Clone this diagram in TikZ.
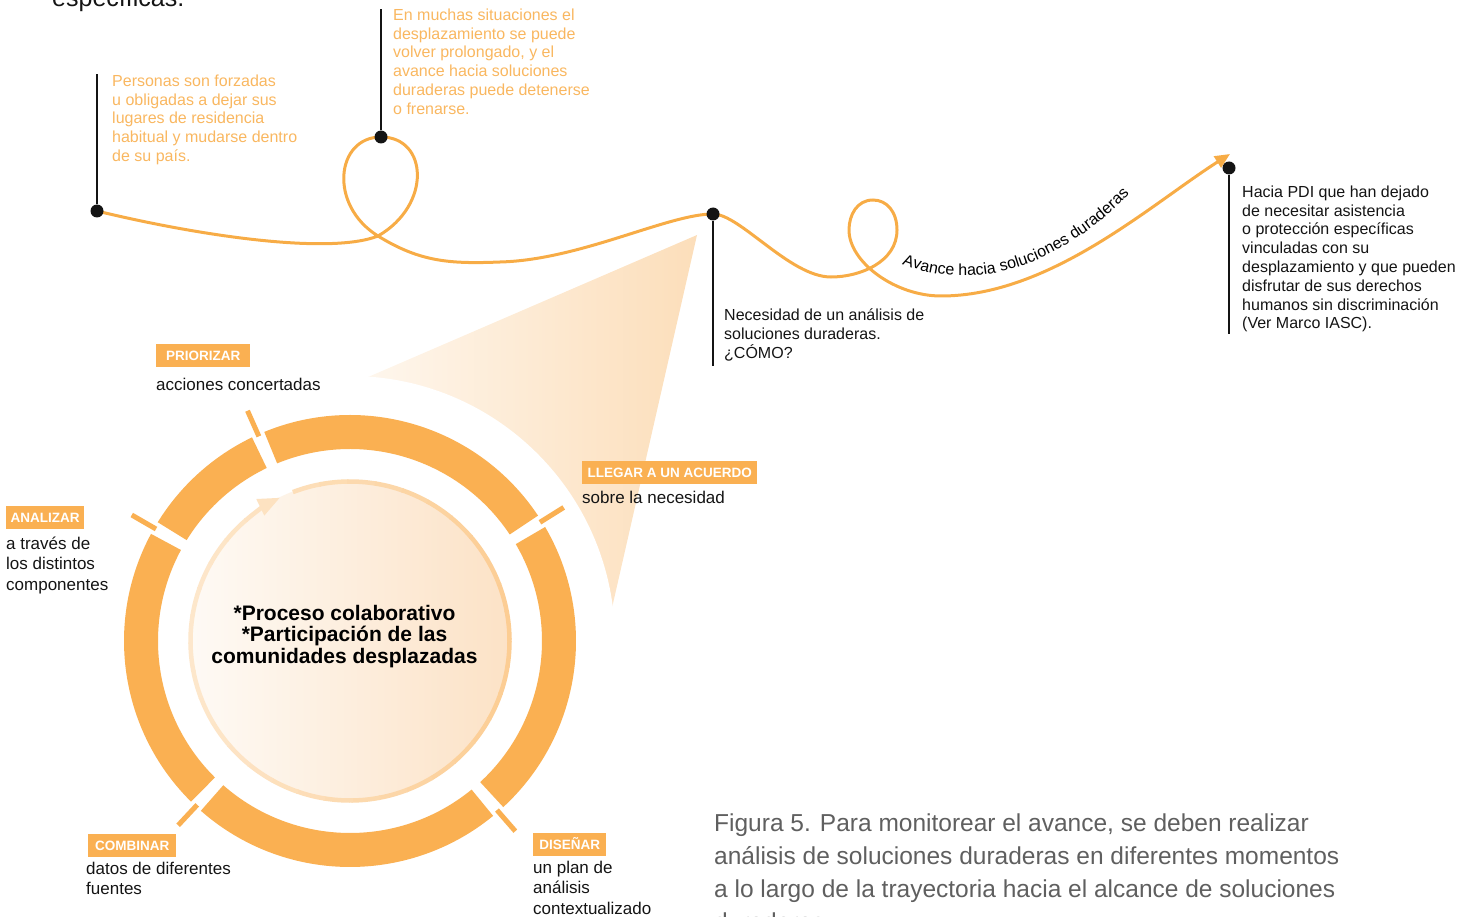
\documentclass[tikz,border=0pt]{standalone}
\usepackage{fontspec}
\setmainfont{Liberation Sans}
\usepackage{tikz}
\usepackage{xcolor}
\usetikzlibrary{arrows.meta, positioning, calc, decorations.text}
\definecolor{trailorange}{RGB}{247, 172, 70}
\definecolor{ringorange}{RGB}{250, 176, 82}
\definecolor{noteorange}{RGB}{249, 183, 96}
\definecolor{wedgepeach}{RGB}{252, 222, 186}
\definecolor{discleft}{RGB}{254, 250, 245}
\definecolor{discright}{RGB}{252, 226, 198}
\definecolor{rimorange}{RGB}{251, 196, 128}
\definecolor{captiongray}{RGB}{95, 95, 95}
\definecolor{inkblack}{RGB}{20, 20, 20}

\begin{document}
\begin{tikzpicture}[x=1pt, y=1pt,
    trail/.style={draw=trailorange, line width=3pt},
    leader/.style={draw=inkblack, line width=2pt},
    dot/.style={circle, fill=inkblack, inner sep=0pt, minimum size=13pt},
    note/.style={anchor=north west, inner sep=0pt, align=left, text=inkblack, font=\fontsize{16}{18.8}\selectfont},
    tag/.style={anchor=north west, fill=ringorange, text=white, inner xsep=2pt, inner ysep=0pt,
        minimum height=22.5pt, text height=10pt, text depth=0pt, font=\bfseries\fontsize{13.5}{16}\selectfont},
    tagtext/.style={inner sep=0pt, align=left, text=inkblack, font=\fontsize{17}{20.3}\selectfont}
]
\useasboundingbox (0,0) rectangle (1478,-917);

% --- Wedge and halo ---
\coordinate (hub) at (350,-641);
\coordinate (wedgetip) at (697,-235);
\shade[left color=white, right color=wedgepeach] (wedgetip) -- (250,-428) -- (591,-700) -- cycle;
\fill[white] (hub) circle[radius=265];

% --- Cycle ring ---
\begin{scope}[shift={(hub)}]
    \foreach \from/\to in {32/114, 114/150, 150/227, 227/311, 311/392}
        \fill[ringorange] (\from+1.7:226) arc[start angle=\from+1.7, end angle=\to-1.7, radius=226]
            -- (\to-1.7:192) arc[start angle=\to-1.7, end angle=\from+1.7, radius=192] -- cycle;
    \foreach \g in {32,114,150,227,311}
        \draw[ringorange, line width=5pt] (\g:224) -- (\g:252);

    \shade[left color=discleft, right color=discright] (0,0) circle[radius=160];
    \foreach \a in {111,101,...,-219}{
        \pgfmathsetmacro{\rimmix}{40+45*(1+cos(\a-5))/2}
        \draw[rimorange!\rimmix, line width=4.5pt] (\a:159.5) arc[start angle=\a, end angle=\a-10.5, radius=159.5];
    }
    \draw[rimorange!49, line width=4.5pt, -{Triangle[length=22pt, width=17pt]}]
        (-229:159.5) arc[start angle=-229, end angle=-244, radius=159.5];

    \node[font=\bfseries\fontsize{21}{21.5}\selectfont, align=center, inner sep=0pt, text=black] (core) at (-5.5,4.5)
        {*Proceso colaborativo\\*Participación de las\\comunidades desplazadas};
\end{scope}

% --- Ring labels ---
\node[tag, minimum width=94pt] (tagprio) at (156,-344) {PRIORIZAR};
\node[tagtext, below=11pt of tagprio.south west, anchor=north west] (txtprio) {acciones concertadas};

\node[tag, minimum width=78pt] (taganal) at (6,-506) {ANALIZAR};
\node[tagtext, below=8pt of taganal.south west, anchor=north west] (txtanal) {a través de\\los distintos\\componentes};

\node[tag, minimum width=175pt] (tagllegar) at (582,-461) {LLEGAR A UN ACUERDO};
\node[tagtext, below=7pt of tagllegar.south west, anchor=north west] (txtllegar) {sobre la necesidad};

\node[tag, minimum width=88pt] (tagcomb) at (88,-834) {COMBINAR};
\node[tagtext, below=5pt of tagcomb.south west, anchor=north west, xshift=-2pt] (txtcomb) {datos de diferentes\\fuentes};

\node[tag, minimum width=73pt] (tagdis) at (533,-833) {DISEÑAR};
\node[tagtext, below=5pt of tagdis.south west, anchor=north west] (txtdis) {un plan de\\análisis\\contextualizado};

% --- Trajectory ---
\coordinate (p1) at (97,-211);
\coordinate (p2) at (381,-137);
\coordinate (p3) at (713,-214);
\coordinate (p4) at (1229,-168);
\coordinate (trailend) at (1230,-154);
\draw[trail, -{Triangle[length=15pt, width=13pt]}]
    (p1) .. controls (200,-236) and (330,-255) .. (378,-236)
    .. controls (432,-205) and (428,-137) .. (p2)
    .. controls (336,-137) and (328,-205) .. (378,-236)
    .. controls (420,-262) and (450,-264) .. (500,-262)
    .. controls (580,-260) and (668,-214) .. (p3)
    .. controls (740,-214) and (790,-277) .. (831,-277)
    .. controls (860,-277) and (897,-262) .. (897,-230)
    .. controls (897,-212) and (887,-200) .. (873,-200)
    .. controls (857,-200) and (849,-215) .. (849,-230)
    .. controls (849,-262) and (895,-296) .. (941,-296)
    .. controls (1050,-296) and (1150,-205) .. (trailend);
\path[decorate, decoration={text along path, text align=left,
    text={|\fontsize{16}{18}\selectfont|Avance hacia soluciones duraderas}}]
    (902,-264) .. controls (977,-294) and (1067,-268) .. (1150,-172);

% --- Milestones ---
\coordinate (p1top) at (97,-74);
\coordinate (p2top) at (381,-9);
\coordinate (p3foot) at (713,-366);
\coordinate (p4foot) at (1229,-334);
\node[dot] (d1) at (p1) {};
\node[dot] (d2) at (p2) {};
\node[dot] (d3) at (p3) {};
\node[dot] (d4) at (p4) {};
\draw[leader] (d1) -- (p1top);
\draw[leader] (d2) -- (p2top);
\draw[leader] (d3) -- (p3foot);
\draw[leader] (d4) -- (p4foot);

\node[note, text=noteorange] (note1) at (112,-74.5)
    {Personas son forzadas\\u obligadas a dejar sus\\lugares de residencia\\habitual y mudarse dentro\\de su país.};
\node[note, text=noteorange] (note2) at (393,-8.5)
    {En muchas situaciones el\\desplazamiento se puede\\volver prolongado, y el\\avance hacia soluciones\\duraderas puede detenerse\\o frenarse.};
\node[note] (note3) at (724,-308.5)
    {Necesidad de un análisis de\\soluciones duraderas.\\¿CÓMO?};
\node[note] (note4) at (1242,-185.5)
    {Hacia PDI que han dejado\\de necesitar asistencia\\o protección específicas\\vinculadas con su\\desplazamiento y que pueden\\disfrutar de sus derechos\\humanos sin discriminación\\(Ver Marco IASC).};

% --- Running text ---
\node[anchor=base west, inner sep=0pt, text=inkblack, font=\fontsize{25}{30}\selectfont] (prevline) at (52,-7) {específicas.};
\node[anchor=north west, inner sep=0pt, align=left, text=captiongray, font=\fontsize{24.5}{33}\selectfont] (caption) at (714,-814)
    {Figura 5. Para monitorear el avance, se deben realizar\\análisis de soluciones duraderas en diferentes momentos\\a lo largo de la trayectoria hacia el alcance de soluciones\\duraderas.};
\end{tikzpicture}
\end{document}
